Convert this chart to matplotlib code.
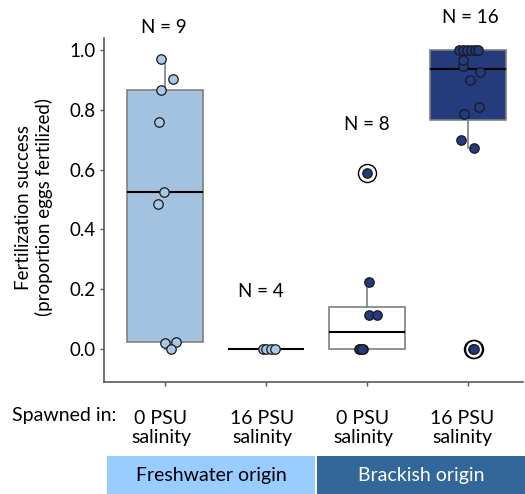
import matplotlib
matplotlib.use('Agg')
import matplotlib.pyplot as plt
from matplotlib.patches import Rectangle
import numpy as np

# ---------------- data ----------------
spawn_labels = ['0 PSU\nsalinity', '16 PSU\nsalinity', '0 PSU\nsalinity', '16 PSU\nsalinity']
origin_labels = ['Freshwater origin', 'Brackish origin']
n_labels = ['N = 9', 'N = 4', 'N = 8', 'N = 16']

fw_0psu = [0.970, 0.903, 0.866, 0.759, 0.525, 0.485, 0.020, 0.023, 0.000]
fw_16psu = [0.0, 0.0, 0.0, 0.0]
br_0psu = [0.589, 0.224, 0.114, 0.114, 0.0, 0.0, 0.0, 0.0]
br_16psu = [0.672, 0.699, 0.786, 0.809, 0.900, 0.926, 0.946, 0.966,
            1.0, 1.0, 1.0, 1.0, 1.0, 1.0, 0.0, 0.0]

# horizontal jitter of each point
fw_0psu_jit = [-0.04, 0.08, -0.04, -0.06, -0.01, -0.07, 0.00, 0.11, 0.06]
fw_16psu_jit = [-0.03, 0.00, 0.05, 0.09]
br_0psu_jit = [0.00, 0.02, 0.02, 0.10, -0.08, -0.04, -0.07, -0.05]
br_16psu_jit = [0.06, -0.07, -0.04, 0.11, 0.02, 0.12, -0.05, -0.05,
                -0.09, -0.05, -0.01, 0.03, 0.07, 0.10, 0.05, 0.06]

groups = [fw_0psu, fw_16psu, br_0psu, br_16psu]
jitters = [fw_0psu_jit, fw_16psu_jit, br_0psu_jit, br_16psu_jit]

box_fill = ['#a3c2df', '#a3c2df', '#ffffff', '#243b7c']
pt_fill = ['#a8c8e6', '#a8c8e6', '#233a80', '#233a80']
band_colors = ['#99ccff', '#336699']
band_text = ['black', 'white']

W, H = 525, 494
plt.rcParams['font.family'] = ['Lato', 'DejaVu Sans']

fig = plt.figure(figsize=(W / 100, H / 100), dpi=100)
def fx(px): return px / W
def fy(py): return 1 - py / H

ax = fig.add_axes([fx(104), fy(382), (523 - 104) / W, (382 - 38) / H])
positions = np.arange(len(groups))

bp = ax.boxplot(groups, positions=positions, widths=0.75, patch_artist=True,
                showfliers=False, showcaps=False, whis=1.5,
                medianprops=dict(color='black', linewidth=1.5),
                whiskerprops=dict(color='#7f7f7f', linewidth=1.2),
                boxprops=dict(edgecolor='#7f7f7f', linewidth=1.2),
                zorder=1)
for patch, c in zip(bp['boxes'], box_fill):
    patch.set_facecolor(c)

for i, (vals, jit) in enumerate(zip(groups, jitters)):
    vals = np.asarray(vals)
    xs = positions[i] + np.asarray(jit)
    ax.plot(xs, vals, 'o', ms=6.8, mfc=pt_fill[i], mec='#1a1a1a', mew=0.9,
            zorder=3, clip_on=False)
    q1, q3 = np.percentile(vals, [25, 75])
    iqr = q3 - q1
    out = (vals < q1 - 1.5 * iqr) | (vals > q3 + 1.5 * iqr)
    if iqr > 0 and out.any():
        ax.plot(xs[out], vals[out], 'o', ms=13, mfc='none', mec='black',
                mew=1.0, zorder=4)

ax.set_xlim(-0.604, 3.545)
ax.set_ylim(-0.110, 1.040)
ax.set_yticks([0.0, 0.2, 0.4, 0.6, 0.8, 1.0])
ax.set_yticklabels(['0.0', '0.2', '0.4', '0.6', '0.8', '1.0'], fontsize=13.5)
ax.set_xticks(positions)
ax.set_xticklabels([])
ax.tick_params(axis='both', length=3, width=1, color='#595959', pad=3)
for s in ['top', 'right']:
    ax.spines[s].set_visible(False)
for s in ['left', 'bottom']:
    ax.spines[s].set_color('#595959')
    ax.spines[s].set_linewidth(1.2)

# N labels
n_y = [1.074, 0.191, 0.752, 1.110]
n_x = [-0.01, -0.05, 0.0, 0.02]
for i, lab in enumerate(n_labels):
    ax.text(positions[i] + n_x[i], n_y[i], lab, ha='center', va='center',
            fontsize=13.5, clip_on=False)

# y label
fig.text(fx(34), fy(207), 'Fertilization success\n(proportion eggs fertilized)',
         rotation=90, ha='center', va='center', fontsize=13.5, linespacing=1.15)

# bottom labels
fig.text(fx(64), fy(415), 'Spawned in:', ha='center', va='center', fontsize=14)
lab_x = [161, 262, 363, 462]
for x, lab in zip(lab_x, spawn_labels):
    fig.text(fx(x), fy(428), lab, ha='center', va='center', fontsize=14,
             linespacing=1.2)

# origin bands
bands = [(107, 315), (317, 525)]
for (x0, x1), c, lab, tc in zip(bands, band_colors, origin_labels, band_text):
    fig.patches.append(Rectangle((fx(x0), 0), (x1 - x0) / W, (494 - 456) / H,
                                 transform=fig.transFigure, facecolor=c,
                                 edgecolor='none'))
    fig.text(fx((x0 + x1) / 2), fy(475), lab, ha='center', va='center',
             fontsize=14, color=tc)

fig.savefig('out.png', dpi=100)
